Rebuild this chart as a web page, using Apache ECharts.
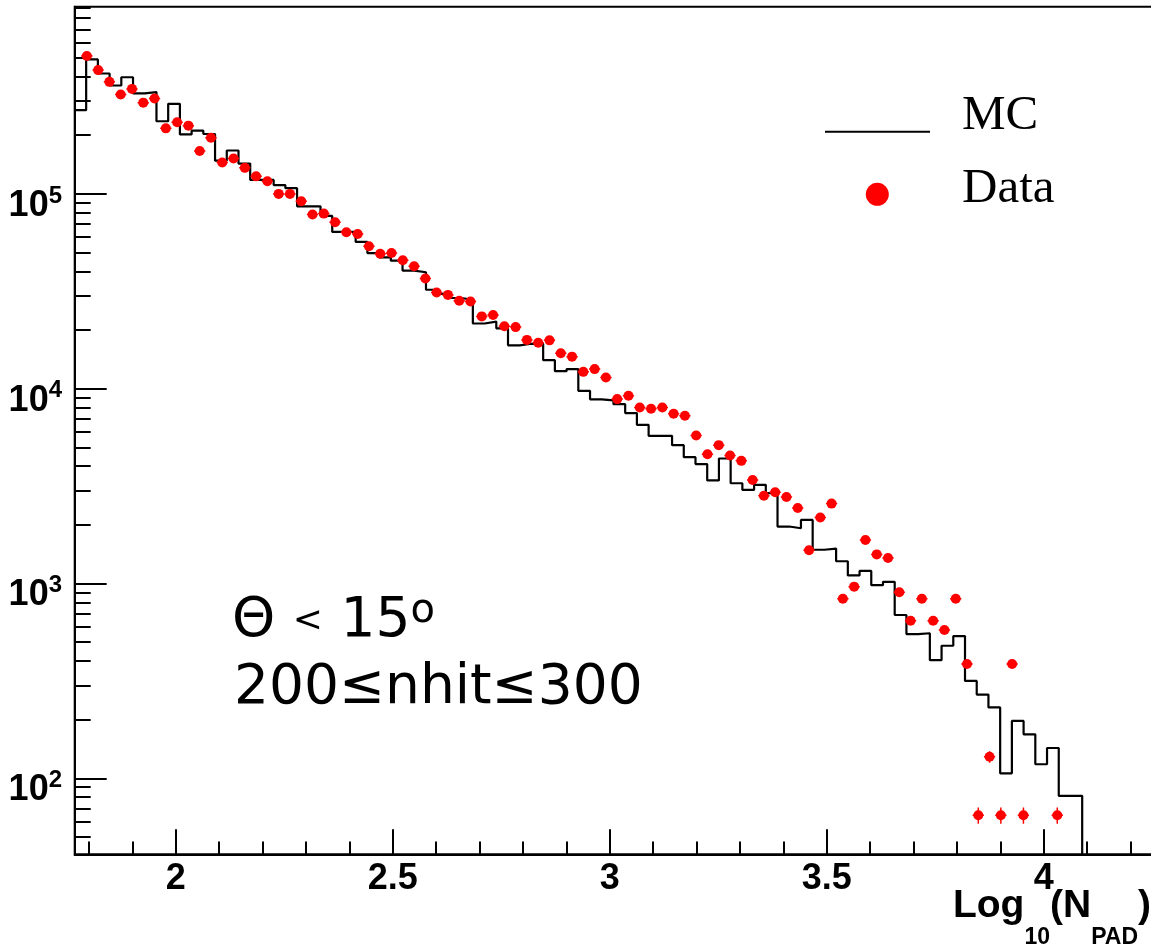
<!DOCTYPE html>
<html>
<head>
<meta charset="utf-8">
<script src="https://cdn.jsdelivr.net/npm/echarts@6/dist/echarts.min.js"></script>
<style>
html,body{margin:0;padding:0;background:#ffffff;}
#chart{width:1151px;height:949px;}
</style>
</head>
<body>
<div id="chart"></div>
<script>
// ---- data ----
// MC histogram: 86 bins of width 0.027 in log10(N_PAD), starting at 1.7664
const mcBinStart = 1.7664;
const mcBinWidth = 0.027;
const mcCounts = [
  2.69e5, 4.90e5, 4.15e5, 3.60e5, 3.97e5, 3.28e5, 3.33e5, 2.36e5, 2.90e5, 2.02e5,
  2.11e5, 2.03e5, 1.48e5, 1.67e5, 1.43e5, 1.18e5, 1.18e5, 1.11e5, 1.07e5, 8.63e4,
  8.63e4, 7.71e4, 6.38e4, 6.38e4, 5.67e4, 4.97e4, 4.72e4, 4.54e4, 4.04e4, 3.96e4,
  3.22e4, 3.07e4, 2.92e4, 2.86e4, 2.16e4, 2.21e4, 2.04e4, 1.67e4, 1.70e4, 1.70e4,
  1.40e4, 1.23e4, 1.26e4, 9750, 8820, 8700, 8330, 7490, 6520, 5730,
  5730, 5130, 4450, 4100, 3380, 4380, 3270, 3020, 3210, 2910,
  1960, 1920, 2120, 1490, 1510, 1300, 1100, 1160, 980, 1020,
  689, 550, 555, 404, 479, 537, 316, 269, 231, 106,
  197, 168, 118, 143, 81.2, 81.2
];
// Data points: centres every 0.026 starting at 1.795 (null = empty bin)
const dataStart = 1.795;
const dataStep = 0.026;
const dataCounts = [
  5.10e5, 4.32e5, 3.76e5, 3.24e5, 3.46e5, 2.94e5, 3.09e5, 2.17e5, 2.33e5, 2.24e5,
  1.66e5, 1.94e5, 1.45e5, 1.52e5, 1.36e5, 1.23e5, 1.16e5, 1.00e5, 1.00e5, 9.16e4,
  7.83e4, 7.92e4, 7.15e4, 6.35e4, 6.23e4, 5.38e4, 4.93e4, 4.97e4, 4.56e4, 4.25e4,
  3.68e4, 3.12e4, 3.03e4, 2.83e4, 2.80e4, 2.35e4, 2.39e4, 2.09e4, 2.07e4, 1.78e4,
  1.72e4, 1.77e4, 1.52e4, 1.46e4, 1.22e4, 1.26e4, 1.14e4, 8840, 9190, 8000,
  7880, 8000, 7430, 7260, 5750, 4610, 5130, 4540, 4260, 3400,
  2820, 2940, 2780, 2440, 1480, 2180, 2570, 834, 963, 1670,
  1410, 1350, 901, 644, 834, 644, 577, 834, 386, 64.6,
  129, 64.6, 386, 64.6, null, null, 64.6
];
const xLabelValues = [2, 2.5, 3, 3.5, 4];
const xMinorTicks = [1.8, 1.9, 2.1, 2.2, 2.3, 2.4, 2.6, 2.7, 2.8, 2.9, 3.1, 3.2, 3.3, 3.4,
                     3.6, 3.7, 3.8, 3.9, 4.1, 4.2];
const yLabelValues = [100, 1000, 10000, 100000];
const yMinorTicks = [50, 60, 70, 80, 90,
  200, 300, 400, 500, 600, 700, 800, 900,
  2000, 3000, 4000, 5000, 6000, 7000, 8000, 9000,
  20000, 30000, 40000, 50000, 60000, 70000, 80000, 90000,
  200000, 300000, 400000, 500000, 600000, 700000, 800000, 900000];
const xRange = [1.767, 4.27];
const yRange = [40.7, 9.14e5];
const legendNames = ['MC', 'Data'];
const noteLine1 = ['Θ ', '<', ' 15', 'o'];
const noteLine2 = '200≤nhit≤300';
// x-axis title pieces: [text, isSubscript]
const xTitleParts = [['Log', false], ['10', true], ['(N', false], ['PAD', true], [')', false]];

// ---- build series data ----
const mcLine = mcCounts.map((v, k) => [mcBinStart + k * mcBinWidth, v]);
mcLine.push([mcBinStart + mcCounts.length * mcBinWidth, 1]); // drop to zero after last bin

const dataPts = [];
dataCounts.forEach((v, i) => {
  if (v != null) dataPts.push([dataStart + i * dataStep, v, Math.sqrt(v * 0.6)]);
});

const axisFont = "'Liberation Sans', Arial, Helvetica, sans-serif";
const serifFont = "'Liberation Serif', 'Times New Roman', serif";
const noteFont = "'DejaVu Sans', sans-serif";
const black = '#000000';
const red = '#ff0000';

// ---- x-axis title laid out piece by piece (main text + subscripts), right aligned ----
const titleBigFont = 'bold 39px ' + axisFont;
const titleSubFont = 'bold 23px ' + axisFont;
const measureCtx = document.createElement('canvas').getContext('2d');
const titleWidths = xTitleParts.map(([t, sub]) => {
  measureCtx.font = sub ? titleSubFont : titleBigFont;
  return measureCtx.measureText(t).width;
});
const titleRight = 1151;
let titleX = titleRight - titleWidths.reduce((a, b) => a + b, 0);
const titleGraphics = xTitleParts.map(([t, sub], i) => {
  const el = {
    type: 'text', x: titleX, y: sub ? 938 : 906, z: 10,
    style: {text: t, font: sub ? titleSubFont : titleBigFont, verticalAlign: 'middle', align: 'left', fill: black}
  };
  titleX += titleWidths[i];
  return el;
});

const chart = echarts.init(document.getElementById('chart'), null, {renderer: 'canvas'});

const option = {
  backgroundColor: '#ffffff',
  animation: false,
  grid: {
    left: 74.7, top: 6.7, right: -10, bottom: 94.7,
    show: true, borderColor: black, borderWidth: 2,
    containLabel: false, outerBoundsMode: 'none'
  },
  xAxis: [{
    type: 'value', min: xRange[0], max: xRange[1], position: 'bottom',
    axisLine: {show: true, onZero: false, lineStyle: {color: black, width: 2}},
    axisTick: {show: true, inside: true, length: 25, customValues: xLabelValues,
               lineStyle: {color: black, width: 2}},
    axisLabel: {show: true, customValues: xLabelValues, margin: 7,
                fontFamily: axisFont, fontWeight: 'bold', fontSize: 36, color: black, lineHeight: 36},
    splitLine: {show: false}
  }, {
    type: 'value', min: xRange[0], max: xRange[1], position: 'bottom',
    axisLine: {show: false},
    axisTick: {show: true, inside: true, length: 12.7, customValues: xMinorTicks,
               lineStyle: {color: black, width: 2}},
    axisLabel: {show: false},
    splitLine: {show: false}
  }],
  yAxis: [{
    type: 'log', logBase: 10, min: yRange[0], max: yRange[1], position: 'left',
    axisLine: {show: true, onZero: false, lineStyle: {color: black, width: 2}},
    axisTick: {show: true, inside: true, length: 32, customValues: yLabelValues,
               lineStyle: {color: black, width: 2}},
    axisLabel: {
      show: true, customValues: yLabelValues, margin: 12.7, padding: [20, 0, 0, 0],
      formatter: function (v) {
        return '{b|10}{s|' + Math.round(Math.log10(v)) + '}';
      },
      rich: {
        b: {fontFamily: axisFont, fontWeight: 'bold', fontSize: 36, lineHeight: 40, verticalAlign: 'bottom', color: black},
        s: {fontFamily: axisFont, fontWeight: 'bold', fontSize: 24, lineHeight: 26, verticalAlign: 'top', color: black}
      }
    },
    splitLine: {show: false}
  }, {
    type: 'log', logBase: 10, min: yRange[0], max: yRange[1], position: 'left',
    axisLine: {show: false},
    axisTick: {show: true, inside: true, length: 16, customValues: yMinorTicks,
               lineStyle: {color: black, width: 2}},
    axisLabel: {show: false},
    splitLine: {show: false}
  }],
  graphic: [
    // legend
    {type: 'line', shape: {x1: 825, y1: 131.7, x2: 930, y2: 131.7}, style: {stroke: black, lineWidth: 2}, z: 10},
    {type: 'text', x: 962, y: 116, z: 10,
     style: {text: legendNames[0], font: '49px ' + serifFont, verticalAlign: 'middle', fill: black}},
    {type: 'circle', shape: {cx: 877.3, cy: 194.3, r: 11.5}, style: {fill: red}, z: 10},
    {type: 'text', x: 962, y: 189, z: 10,
     style: {text: legendNames[1], font: '49px ' + serifFont, verticalAlign: 'middle', fill: black}},
    // annotation
    {type: 'text', x: 232, y: 622, z: 10,
     style: {
       text: '{a|' + noteLine1[0] + '}{lt|' + noteLine1[1] + '}{a|' + noteLine1[2] + '}{s|' + noteLine1[3] + '}',
       verticalAlign: 'middle',
       rich: {
         a: {fontFamily: noteFont, fontSize: 55, lineHeight: 60, verticalAlign: 'middle', fill: black},
         lt: {fontFamily: noteFont, fontSize: 36, lineHeight: 60, verticalAlign: 'middle', fill: black},
         s: {fontFamily: noteFont, fontSize: 40, lineHeight: 40, verticalAlign: 'top', fill: black}
       }
     }},
    {type: 'text', x: 234, y: 689, z: 10,
     style: {text: noteLine2, font: '55px ' + noteFont, verticalAlign: 'middle', fill: black}}
  ].concat(titleGraphics),
  series: [{
    name: legendNames[0], type: 'line', step: 'end',
    xAxisIndex: 0, yAxisIndex: 0,
    data: mcLine, symbol: 'none', showSymbol: false, clip: true,
    lineStyle: {color: black, width: 2.2}, itemStyle: {color: black}, z: 2
  }, {
    name: 'Data errors', type: 'custom', xAxisIndex: 0, yAxisIndex: 0,
    data: dataPts, encode: {x: 0, y: 1}, z: 3, clip: true,
    renderItem: function (params, api) {
      const x = api.value(0), v = api.value(1), e = api.value(2);
      const c = api.coord([x, v]);
      const l = api.coord([x - dataStep / 2, v]);
      const r = api.coord([x + dataStep / 2, v]);
      const t = api.coord([x, v + e]);
      const b = api.coord([x, v - e]);
      return {
        type: 'group',
        children: [
          {type: 'line', shape: {x1: l[0], y1: c[1], x2: r[0], y2: c[1]}, style: {stroke: red, lineWidth: 1.5}},
          {type: 'line', shape: {x1: c[0], y1: t[1], x2: c[0], y2: b[1]}, style: {stroke: red, lineWidth: 1.5}}
        ]
      };
    }
  }, {
    name: legendNames[1], type: 'scatter', xAxisIndex: 0, yAxisIndex: 0,
    data: dataPts.map(p => [p[0], p[1]]), symbol: 'circle', symbolSize: 10,
    itemStyle: {color: red, opacity: 1}, z: 4
  }]
};
chart.setOption(option);
</script>
</body>
</html>
